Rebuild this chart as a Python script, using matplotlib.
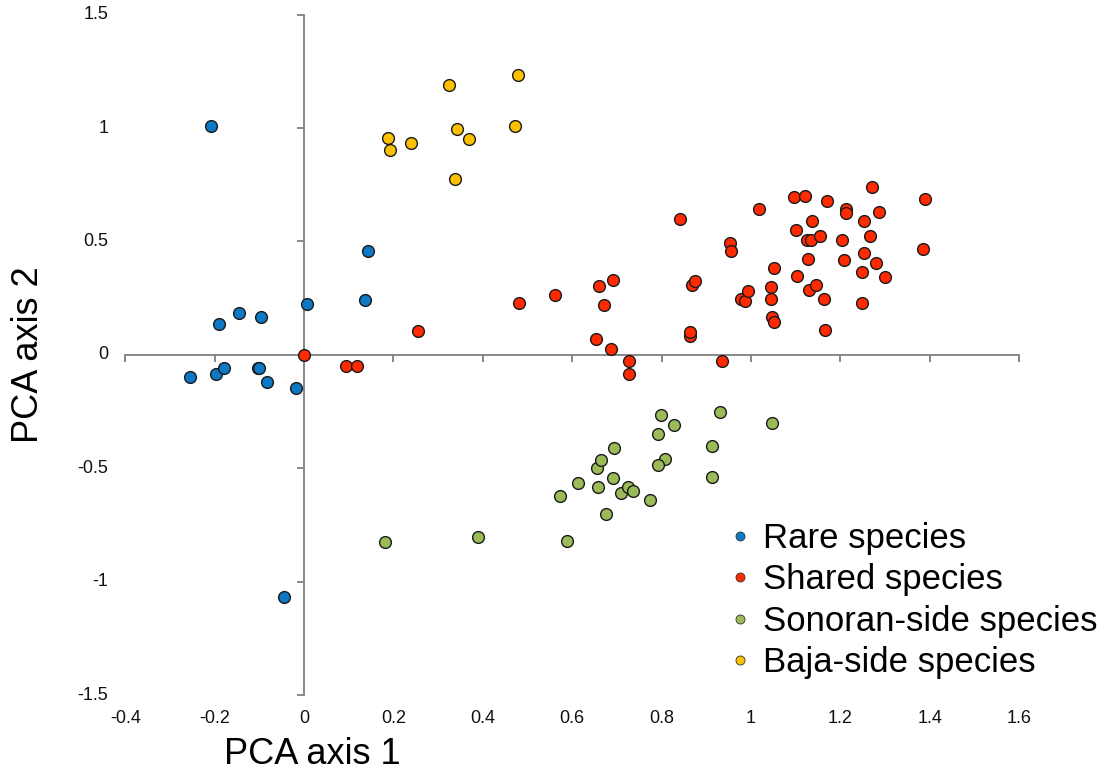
import matplotlib
matplotlib.use("Agg")
import matplotlib.pyplot as plt
from matplotlib.lines import Line2D
import matplotlib.transforms as mtrans

plt.rcParams['font.family'] = ['Liberation Sans', 'DejaVu Sans']

# ---- data ----
rare_x = [-0.207, 0.143, 0.137, 0.007, -0.145, -0.190, -0.097, -0.254, -0.196,
          -0.178, -0.103, -0.101, -0.083, -0.019, -0.045]
rare_y = [1.008, 0.459, 0.240, 0.225, 0.185, 0.135, 0.166, -0.096, -0.084,
          -0.056, -0.056, -0.058, -0.121, -0.148, -1.067]

shared_x = [0.000, 0.093, 0.119, 0.256, 0.482, 0.561, 0.659, 0.691, 0.672, 0.653,
            0.687, 0.726, 0.727, 0.841, 0.864, 0.864, 0.869, 0.874, 0.936, 0.954,
            0.955, 0.977, 0.987, 0.994, 1.019, 1.044, 1.045, 1.046, 1.052, 1.052,
            1.096, 1.121, 1.169, 1.101, 1.136, 1.126, 1.134, 1.154, 1.128, 1.104,
            1.130, 1.145, 1.163, 1.165, 1.213, 1.212, 1.204, 1.208, 1.253, 1.271,
            1.287, 1.267, 1.253, 1.280, 1.248, 1.300, 1.248, 1.389, 1.385]
shared_y = [0.000, -0.048, -0.048, 0.103, 0.229, 0.262, 0.304, 0.329, 0.222, 0.071,
            0.026, -0.028, -0.084, 0.598, 0.085, 0.100, 0.307, 0.326, -0.028, 0.495,
            0.459, 0.245, 0.236, 0.281, 0.641, 0.300, 0.245, 0.165, 0.143, 0.384,
            0.694, 0.701, 0.680, 0.551, 0.589, 0.507, 0.507, 0.526, 0.423, 0.348,
            0.284, 0.309, 0.245, 0.110, 0.641, 0.626, 0.507, 0.419, 0.589, 0.741,
            0.629, 0.522, 0.451, 0.407, 0.367, 0.345, 0.229, 0.688, 0.467]

sonoran_x = [0.181, 0.390, 0.588, 0.573, 0.612, 0.657, 0.676, 0.656, 0.665, 0.694,
             0.691, 0.710, 0.725, 0.735, 0.775, 0.793, 0.798, 0.828, 0.808, 0.793,
             0.912, 0.912, 0.930, 1.047]
sonoran_y = [-0.827, -0.802, -0.822, -0.623, -0.564, -0.584, -0.703, -0.501, -0.463, -0.410,
             -0.544, -0.608, -0.582, -0.600, -0.638, -0.350, -0.265, -0.309, -0.460, -0.485,
             -0.401, -0.539, -0.250, -0.301]

baja_x = [0.325, 0.478, 0.471, 0.342, 0.369, 0.189, 0.193, 0.239, 0.337]
baja_y = [1.190, 1.232, 1.010, 0.994, 0.951, 0.955, 0.902, 0.933, 0.775]

series_labels = ["Rare species", "Shared species", "Sonoran-side species", "Baja-side species"]
series_colors = ["#0D78C3", "#FF2A00", "#9BBB59", "#FFC000"]

x_ticks = [-0.4, -0.2, 0, 0.2, 0.4, 0.6, 0.8, 1, 1.2, 1.4, 1.6]
x_tick_labels = ["-0.4", "-0.2", "0", "0.2", "0.4", "0.6", "0.8", "1", "1.2", "1.4", "1.6"]
y_ticks = [-1.5, -1, -0.5, 0, 0.5, 1, 1.5]
y_tick_labels = ["-1.5", "-1", "-0.5", "0", "0.5", "1", "1.5"]

# ---- figure ----
W, H = 1106, 782
fig = plt.figure(figsize=(W / 100, H / 100), dpi=100)
ax = fig.add_axes([125.2 / W, 1 - 695.0 / H, 894.0 / W, 680.3 / H])
ax.set_xlim(-0.4, 1.6)
ax.set_ylim(-1.5, 1.5)

axis_color = "#7F7F7F"
for s in ["top", "right"]:
    ax.spines[s].set_visible(False)
ax.spines["left"].set_position(("data", 0))
ax.spines["bottom"].set_position(("data", 0))
for s in ["left", "bottom"]:
    ax.spines[s].set_color(axis_color)
    ax.spines[s].set_linewidth(1.3)
    ax.spines[s].set_zorder(1)
ax.set_xticks(x_ticks)
ax.set_yticks(y_ticks)
ax.tick_params(axis="both", direction="out", length=5, width=1.3, color=axis_color,
               labelbottom=False, labelleft=False)

# tick labels at the outer edges (Excel style)
tb = mtrans.blended_transform_factory(ax.transData, ax.transAxes)
for v, lab in zip(x_ticks, x_tick_labels):
    ax.text(v, -0.035, lab, transform=tb, ha="center", va="center", fontsize=13, color="#111111")
tl = mtrans.blended_transform_factory(ax.transAxes, ax.transData)
for v, lab in zip(y_ticks, y_tick_labels):
    ax.text(-0.019, v, lab, transform=tl, ha="right", va="center", fontsize=13, color="#111111")

series = [(rare_x, rare_y), (shared_x, shared_y), (sonoran_x, sonoran_y), (baja_x, baja_y)]
for (xs, ys), c in zip(series, series_colors):
    ax.scatter(xs, ys, s=72, c=c, edgecolors="#1A1A1A", linewidths=1.0, zorder=3, clip_on=False)

fig.text(312 / W, 1 - 755 / H, "PCA axis 1", ha="center", va="center", fontsize=26)
fig.text(29 / W, 1 - 355 / H, "PCA axis 2", ha="center", va="center", fontsize=26, rotation=90)

handles = [Line2D([0], [0], marker="o", linestyle="none", markersize=6.5,
                  markerfacecolor=c, markeredgecolor="#333333", markeredgewidth=0.6)
           for c in series_colors]
leg = fig.legend(handles, series_labels, loc="upper left",
                 bbox_to_anchor=(730 / W, 1 - 522 / H), frameon=False,
                 fontsize=25, handlelength=0.6, handletextpad=0.35,
                 labelspacing=0.24, borderpad=0, borderaxespad=0)

fig.savefig("out.png", dpi=100)
